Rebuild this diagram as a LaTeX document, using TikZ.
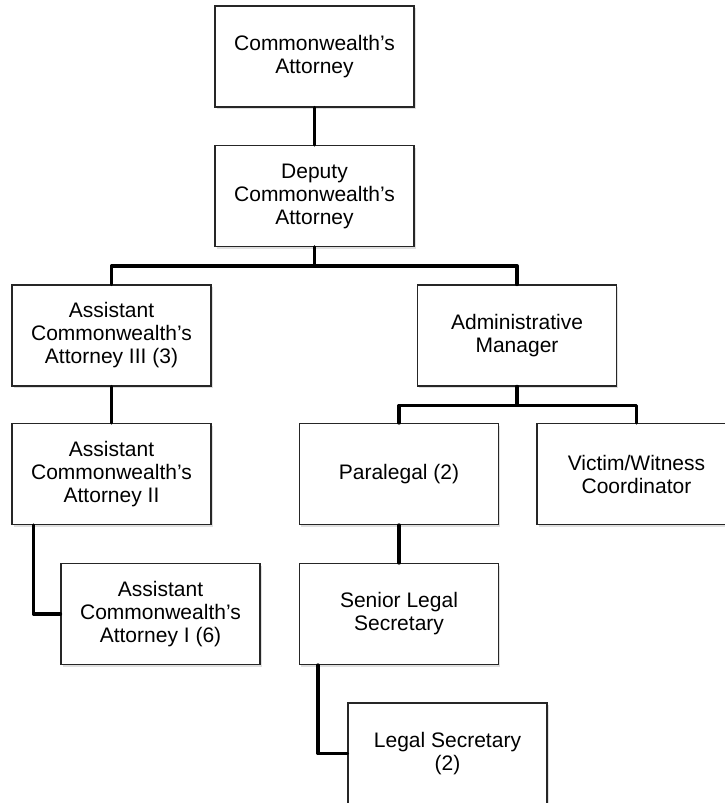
\documentclass[tikz,border=0pt]{standalone}
\usepackage{fontspec}
\setmainfont{Liberation Sans}
\usepackage{tikz}
\usetikzlibrary{shadows}

\begin{document}
\begin{tikzpicture}[x=1pt,y=-1pt,
  post/.style={draw=black!85,line width=1.1pt,fill=white,
    minimum width=199pt,minimum height=101pt,align=center,
    font=\fontsize{21}{23}\selectfont,
    drop shadow={shadow xshift=1.5pt,shadow yshift=-2pt,opacity=0.25}},
  link/.style={line width=3.4pt,line cap=round,line join=round}]
 \useasboundingbox (0,0) rectangle (725,803);
 \fill[white] (0,0) rectangle (725,803);
 % boxes
 \node[post] (ca)   at (314.5,56.5) {Commonwealth's\\Attorney};
 \node[post] (dep)  at (314.5,196)  {Deputy\\Commonwealth's\\Attorney};
 \node[post] (a3)   at (111.5,335.5) {Assistant\\Commonwealth's\\Attorney III (3)};
 \node[post] (mgr)  at (517,335.5)  {Administrative\\Manager};
 \node[post] (a2)   at (111.5,474)  {Assistant\\Commonwealth's\\Attorney II};
 \node[post] (para) at (399,474)    {Paralegal (2)};
 \node[post] (vic)  at (636.5,474)  {Victim/Witness\\Coordinator};
 \node[post] (a1)   at (160.5,614)  {Assistant\\Commonwealth's\\Attorney I (6)};
 \node[post] (sen)  at (399,614)    {Senior Legal\\Secretary};
 \node[post] (lsec) at (447.5,753.5) {Legal Secretary\\(2)};
 % lines
 \draw[link] (ca.south) -- (dep.north);
 \draw[link] (dep.south) -- ++(0,19) -| (a3.north);
 \draw[link] (dep.south) -- ++(0,19) -| (mgr.north);
 \draw[link] (mgr.south) -- ++(0,19) -| (para.north);
 \draw[link] (mgr.south) -- ++(0,19) -| (vic.north);
 \draw[link] (a3.south) -- (a2.north);
 \draw[link] (para.south) -- (sen.north);
 \draw[link] ([xshift=22pt]a2.south west) |- (a1.west);
 \draw[link] ([xshift=19pt]sen.south west) |- (lsec.west);
\end{tikzpicture}
\end{document}
